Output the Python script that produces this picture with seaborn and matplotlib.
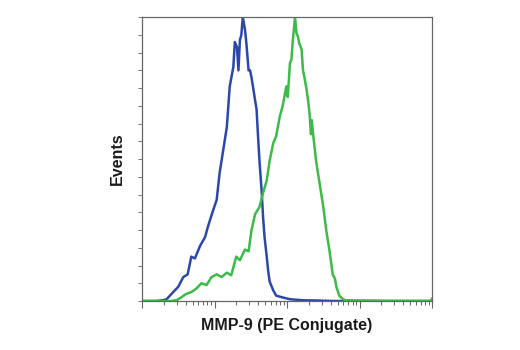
import numpy as np
import pandas as pd
import matplotlib
matplotlib.use("Agg")
import matplotlib.pyplot as plt
import seaborn as sns
from matplotlib.ticker import LogLocator, NullFormatter, MultipleLocator

# Fluorescence intensity (log10 decades) and event counts for each histogram
control_log = [0.00, 0.20, 0.30, 0.34, 0.43, 0.50, 0.57, 0.63, 0.68, 0.73, 0.80, 0.87, 0.91,
               0.98, 1.03, 1.07, 1.12, 1.17, 1.21, 1.26, 1.28, 1.31, 1.33, 1.35, 1.37, 1.39,
               1.42, 1.44, 1.47, 1.49, 1.51, 1.53, 1.56, 1.58, 1.60, 1.62, 1.65, 1.67, 1.69,
               1.72, 1.74, 1.76, 1.81, 1.85, 1.94, 2.04, 2.22, 2.40, 2.63, 4.00]
control_counts = [0, 0, 0.5, 1, 5, 8, 13.5, 15, 25, 24, 31, 36, 42,
                  51, 57, 72, 85, 98, 121, 132, 146, 143, 130, 147, 150, 160,
                  153, 145, 130, 130, 126, 121, 113, 108, 93, 79, 62, 47, 36,
                  25, 17, 11, 6, 3, 2, 1, 0.4, 0.3, 0, 0]

mmp9_log = [0.00, 0.40, 0.48, 0.54, 0.61, 0.68, 0.75, 0.82, 0.89, 0.96, 1.03, 1.10, 1.17,
            1.23, 1.30, 1.35, 1.42, 1.47, 1.51, 1.56, 1.62, 1.67, 1.72, 1.76, 1.81, 1.85,
            1.90, 1.94, 1.99, 2.01, 2.04, 2.06, 2.08, 2.11, 2.13, 2.15, 2.17, 2.20, 2.22,
            2.24, 2.27, 2.29, 2.31, 2.33, 2.34, 2.36, 2.40, 2.45, 2.50, 2.54, 2.59, 2.63,
            2.66, 2.68, 2.72, 2.77, 2.81, 3.50, 3.98, 4.00]
mmp9_counts = [0, 0, 0.5, 2, 4, 5, 7, 10, 9, 13.5, 15, 13.5, 16,
               14.5, 25, 23, 29, 28, 40, 49, 53, 61, 68, 79, 89, 93,
               104, 110, 121, 115, 134, 136, 147, 160, 151, 149, 145, 142, 130,
               126, 119, 113, 106, 94, 102, 94, 79, 66, 53, 40, 27, 15,
               12.6, 8, 3, 1, 0.4, 0, 0, 1.5]

x_label = "MMP-9 (PE Conjugate)"
y_label = "Events"

df = pd.concat([
    pd.DataFrame({"intensity": 10 ** np.asarray(control_log), "events": control_counts,
                  "sample": "control"}),
    pd.DataFrame({"intensity": 10 ** np.asarray(mmp9_log), "events": mmp9_counts,
                  "sample": "MMP-9"}),
], ignore_index=True)

sns.set_theme(style="white")
plt.rcParams["font.family"] = ["Liberation Sans", "DejaVu Sans"]

fig = plt.figure(figsize=(5.2, 3.5), dpi=100)
ax = fig.add_axes([0.273, 0.14, 0.558, 0.811])

sns.lineplot(data=df, x="intensity", y="events", hue="sample",
             palette={"control": "#2b48a8", "MMP-9": "#3dba49"},
             linewidth=1.8, legend=False, ax=ax, sort=False)

ax.set_xscale("log")
ax.set_xlim(1, 1e4)
ax.set_ylim(0, 160)

ax.xaxis.set_major_locator(LogLocator(base=10, numticks=10))
ax.xaxis.set_minor_locator(LogLocator(base=10, subs=np.arange(2, 10), numticks=20))
ax.xaxis.set_major_formatter(NullFormatter())
ax.xaxis.set_minor_formatter(NullFormatter())
ax.yaxis.set_major_locator(MultipleLocator(10))
ax.yaxis.set_major_formatter(NullFormatter())

ax.tick_params(axis="x", which="major", direction="out", length=5, width=0.8,
               color="#666666", bottom=True)
ax.tick_params(axis="x", which="minor", direction="out", length=3, width=0.7,
               color="#666666", bottom=True)
ax.tick_params(axis="y", which="major", direction="out", length=3, width=0.7,
               color="#777777", left=True)

for side in ["left", "right", "top", "bottom"]:
    ax.spines[side].set_visible(True)
    ax.spines[side].set_color("#666666")
    ax.spines[side].set_linewidth(0.9)

ax.set_xlabel(x_label, fontsize=11.5, fontweight="bold", color="#1a1a1a", labelpad=4)
ax.set_ylabel(y_label, fontsize=11.5, fontweight="bold", color="#1a1a1a", labelpad=6)

fig.savefig("out.png", dpi=100, facecolor="white")
